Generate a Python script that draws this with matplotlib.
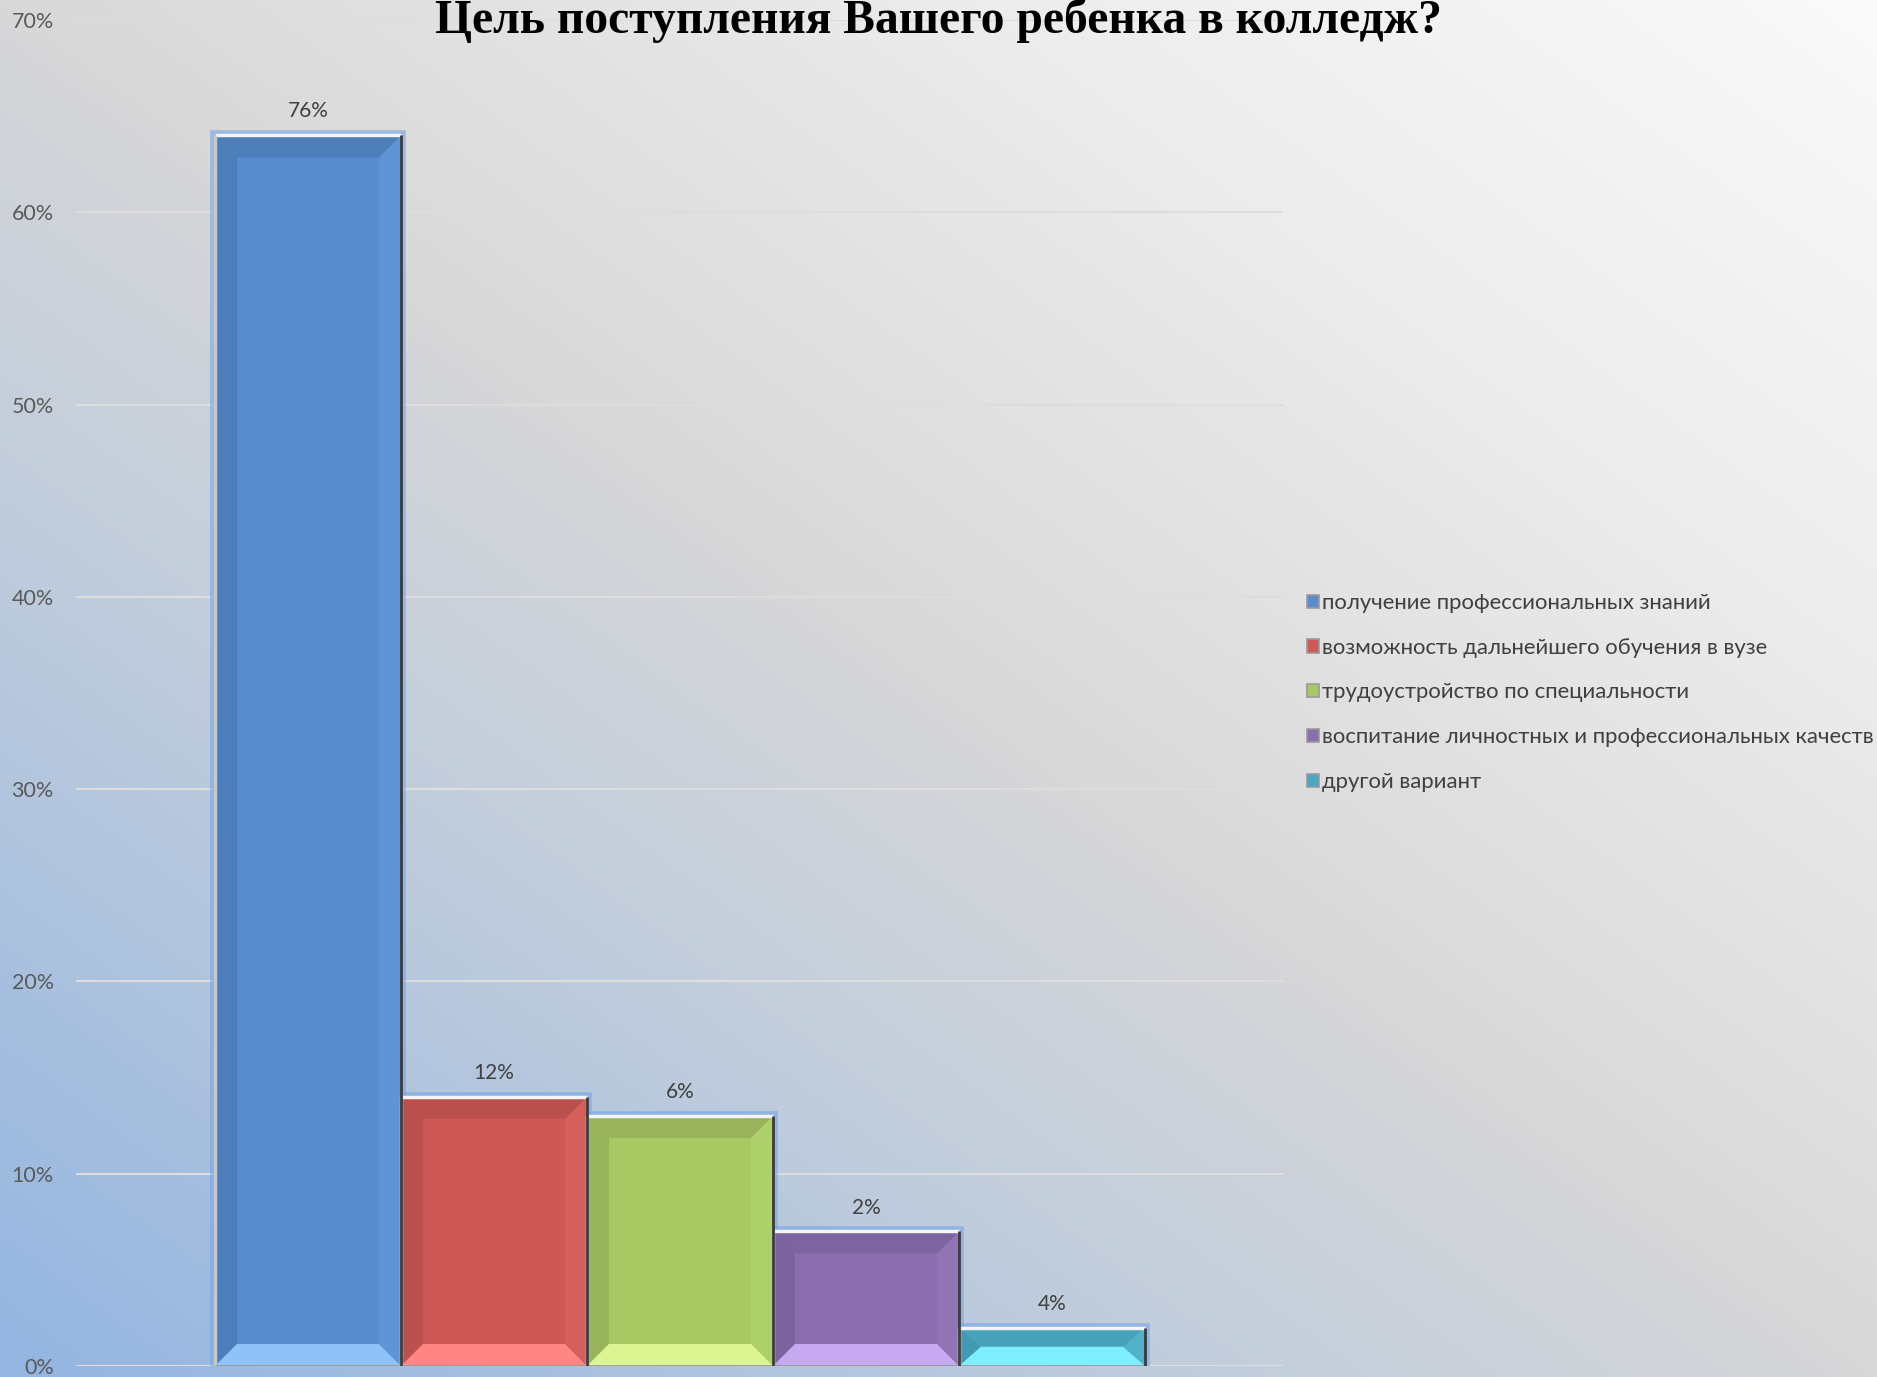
import numpy as np
import matplotlib
matplotlib.use("Agg")
import matplotlib.pyplot as plt
from matplotlib.patches import Polygon, Patch
from matplotlib.colors import LinearSegmentedColormap

plt.rcParams["font.family"] = ["Lato", "DejaVu Sans"]

# ---------------- data ----------------
title = "Цель поступления Вашего ребенка в колледж?"
categories = [
    "получение профессиональных знаний",
    "возможность дальнейшего обучения в вузе",
    "трудоустройство по специальности",
    "воспитание личностных и профессиональных качеств",
    "другой вариант",
]
values = [64, 14, 13, 7, 2]               # bar heights (%)
value_labels = ["76%", "12%", "6%", "2%", "4%"]  # data labels as printed
yticks = [0, 10, 20, 30, 40, 50, 60, 70]
ytick_labels = ["0%", "10%", "20%", "30%", "40%", "50%", "60%", "70%"]

# ---------------- style ----------------
face_colors = ["#588ccd", "#ce5856", "#a8c864", "#8a6eaf", "#4ba8c3"]
top_colors = ["#4f7fbb", "#b9504e", "#98b35c", "#7c64a0", "#48a2ba"]
bottom_colors = ["#8fc2f8", "#ff8683", "#dcf592", "#c6a9f0", "#7feeff"]
left_colors = ["#4d7dba", "#bb514f", "#97b45b", "#7c639f", "#4499b2"]
right_colors = ["#5f95d7", "#d65e5b", "#aed06a", "#9074b6", "#52b2cc"]

W, H = 1877, 1377
fig = plt.figure(figsize=(W / 100, H / 100), dpi=100)

# background gradient (bottom-left blue -> top-right near white)
bg = fig.add_axes([0, 0, 1, 1], zorder=-10)
bg.set_axis_off()
u = np.linspace(0, 1, 400)
v = np.linspace(0, 1, 300)
U, V = np.meshgrid(u, v)
T = (U + V) / 2
cmap = LinearSegmentedColormap.from_list(
    "bg",
    [(0.0, "#93b5e1"), (0.32, "#c1cddc"), (0.48, "#d4d5d8"), (0.5, "#d8d8d8"),
     (0.76, "#ececec"), (1.0, "#fafafa")],
)
bg.imshow(T, cmap=cmap, origin="lower", extent=[0, 1, 0, 1], aspect="auto",
          vmin=0, vmax=1, interpolation="bilinear")
bg.set_xlim(0, 1)
bg.set_ylim(0, 1)

# main axes
left_px, right_px = 76, 1283
top_px, bottom_px = 20, 1366
ax = fig.add_axes([left_px / W, 1 - bottom_px / H,
                   (right_px - left_px) / W, (bottom_px - top_px) / H])
ax.set_facecolor("none")
x = np.arange(len(values))
xmin, xmax = -1.247, 5.242
ax.set_xlim(xmin, xmax)
ax.set_ylim(0, 70)

px_per_x = (right_px - left_px) / (xmax - xmin)
px_per_y = (bottom_px - top_px) / 70.0

# glow
ax.bar(x, values, width=1.0, color="none", edgecolor="#74a6e6", linewidth=7,
       alpha=0.6, zorder=2)
bars = ax.bar(x, values, width=1.0, color=face_colors, edgecolor="none", zorder=3)

for i, rect in enumerate(bars):
    x0 = rect.get_x()
    x1 = x0 + rect.get_width()
    h = rect.get_height()
    bx = 22 / px_per_x
    by = min(22 / px_per_y, h / 2)
    polys = [
        ([(x0, 0), (x0, h), (x0 + bx, h - by), (x0 + bx, by)], left_colors[i]),
        ([(x1, 0), (x1, h), (x1 - bx, h - by), (x1 - bx, by)], right_colors[i]),
        ([(x0, h), (x1, h), (x1 - bx, h - by), (x0 + bx, h - by)], top_colors[i]),
        ([(x0, 0), (x1, 0), (x1 - bx, by), (x0 + bx, by)], bottom_colors[i]),
    ]
    for pts, c in polys:
        ax.add_patch(Polygon(pts, closed=True, facecolor=c, edgecolor="none",
                             zorder=3.5))
    # edge highlights
    ax.plot([x0, x1], [h, h], color="#f4f4f4", lw=2.5, zorder=4,
            solid_capstyle="butt")
    ax.plot([x0, x0], [0, h], color="#c8c8c8", lw=2.5, zorder=4,
            solid_capstyle="butt")
    ax.plot([x1, x1], [0, h], color="#3c3c3c", lw=2.0, zorder=4.1,
            solid_capstyle="butt")
    ax.plot([x0, x1], [0, 0], color="#9a9a9a", lw=2.0, zorder=4,
            solid_capstyle="butt")
    ax.annotate(value_labels[i], (rect.get_x() + rect.get_width() / 2, h),
                xytext=(0, 10), textcoords="offset points", ha="center",
                va="bottom", fontsize=15, color="#404040", zorder=5)

ax.set_yticks(yticks)
ax.set_yticklabels(ytick_labels)
ax.set_xticks([])
ax.tick_params(axis="y", length=0, pad=16, labelsize=15.5, labelcolor="#595959")
for s in ax.spines.values():
    s.set_visible(False)
ax.yaxis.grid(True, color="#dddddd", lw=1.5)
ax.set_axisbelow(True)

# legend
handles = [Patch(facecolor=c, edgecolor="#9a9a9a", linewidth=1.2) for c in face_colors]
leg = ax.legend(handles, categories, loc="center left",
                bbox_to_anchor=(1307 / W, 1 - 692.5 / H), bbox_transform=fig.transFigure,
                frameon=False, fontsize=15.9, handlelength=0.55, handleheight=0.55,
                handletextpad=0.15, labelspacing=1.12, borderpad=0, borderaxespad=0)
for t in leg.get_texts():
    t.set_color("#404040")

# title
fig.text(0.5, 1 - 33 / H, title, ha="center", va="baseline",
         fontfamily="Liberation Serif", fontweight="bold", fontsize=34.3, color="black")

fig.savefig("out.png", dpi=100)
